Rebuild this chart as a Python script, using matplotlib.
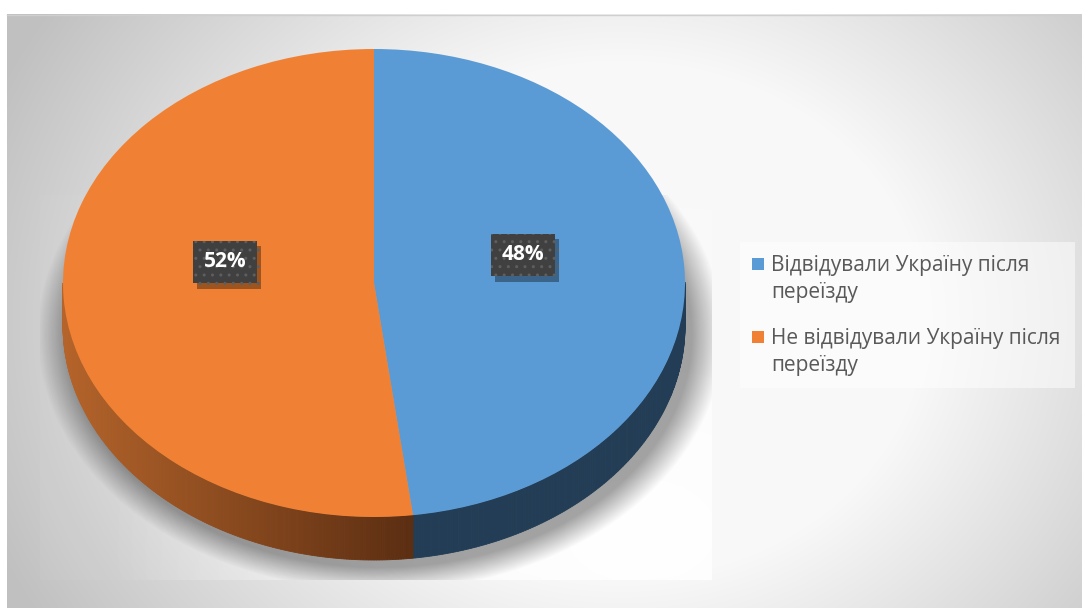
import numpy as np
import matplotlib.pyplot as plt
import matplotlib.patheffects as pe
from matplotlib.patches import Polygon, Rectangle

plt.rcParams['font.family'] = ['Open Sans', 'DejaVu Sans']
plt.rcParams['hatch.linewidth'] = 1.0

# survey answers
categories = ['Відвідували Україну після\nпереїзду',
              'Не відвідували Україну після\nпереїзду']
shares = [48, 52]
top_colors = ['#5B9BD5', '#F08134']

W, H = 1082, 608
fig = plt.figure(figsize=(W / 100, H / 100), dpi=100)
fig.patch.set_facecolor('white')

# background axes in pixel units
bg = fig.add_axes([0, 0, 1, 1])
bg.set_xlim(0, W)
bg.set_ylim(H, 0)
bg.axis('off')

# chart area: radial grey gradient
X, Y = np.meshgrid(np.arange(7, W), np.arange(14, H))
r = np.hypot((X - 620) / 470, (Y - 320) / 400)
grey = np.clip(255 - 70 * (r - 0.55), 192, 248) / 255
bg.imshow(np.dstack([grey] * 3), extent=(7, W, H, 14), zorder=0)
bg.plot([7, W], [14.5, 14.5], color='#cfcfcf', lw=1, zorder=1)

# plot area: faint lighter panel behind the pie
px0, px1, py0, py1 = 40, 712, 195, 580
PX, PY = np.meshgrid(np.arange(px0, px1), np.arange(py0, py1))
pr = np.hypot((PX - 640) / 520, (PY - 530) / 360)
palpha = np.clip(1.0 - 0.95 * pr, 0.04, 0.95)
panel = np.dstack([np.ones_like(palpha)] * 3 + [palpha])
bg.imshow(panel, extent=(px0, px1, py1, py0), zorder=1)

# pie geometry in pixels
cx, cy, a, b, depth = 374, 283, 311, 234, 43
d = depth / b

# soft shadow under the pie
SX, SY = np.meshgrid(np.arange(px0, px1), np.arange(py0, py1))
sr = np.hypot((SX - cx - 6) / (a + 10), (SY - cy - depth - 8) / (b + 6))
salpha = 0.36 * np.clip((1.07 - sr) / 0.1, 0, 1)
shadow = np.dstack([np.zeros_like(salpha)] * 3 + [salpha])
bg.imshow(shadow, extent=(px0, px1, py1, py0), zorder=2)

# pie axes: unit circle maps onto the ellipse
ax = fig.add_axes([0, 0, 1, 1])
ax.patch.set_visible(False)
wedges, _, autotexts = ax.pie(shares, colors=top_colors, startangle=90,
                              counterclock=False, autopct='%1.0f%%',
                              pctdistance=0.48,
                              wedgeprops=dict(linewidth=0, zorder=3))
ax.set_aspect('auto')
ax.set_xlim(-cx / a, (W - cx) / a)
ax.set_ylim(-(H - cy) / b, cy / b)
ax.axis('off')

# side walls of the disc, front half only, shaded left to right
side_light = [np.array([0x23, 0x3F, 0x57]) / 255,
              np.array([0xB5, 0x64, 0x2A]) / 255]
side_dark = [np.array([0x22, 0x3D, 0x55]) / 255,
             np.array([0x5C, 0x2E, 0x12]) / 255]
for w, lo, hi in zip(wedges, side_light, side_dark):
    t1, t2 = sorted([w.theta1, w.theta2])
    angles = np.clip(np.arange(t1, t2 + 0.5, 0.5), t1, t2)
    for s, e in zip(angles[:-1], angles[1:]):
        if np.sin(np.radians((s + e) / 2)) > 0:
            continue
        xs = np.cos(np.radians([s, e]))
        ys = np.sin(np.radians([s, e]))
        f = np.clip((np.mean(xs) + 1) / 1.12, 0, 1)
        col = lo + (hi - lo) * f
        quad = [(xs[0], ys[0]), (xs[1], ys[1]),
                (xs[1], ys[1] - d), (xs[0], ys[0] - d)]
        ax.add_patch(Polygon(quad, closed=True, facecolor=col,
                             edgecolor=col, lw=0.6, zorder=1))

# percentage labels in dark dotted boxes with a drop shadow
lift = [0.09, 0.12]
for t, dy in zip(autotexts, lift):
    x, y = t.get_position()
    t.set_position((x, y + dy))
    t.set_color('white')
    t.set_fontweight('bold')
    t.set_fontsize(15)
    t.set_zorder(6)
    t.set_bbox(dict(boxstyle='square,pad=0.52', facecolor='#404040',
                    edgecolor='#5e5e5e', linewidth=0, hatch='..'))
    t.get_bbox_patch().set_path_effects([
        pe.SimplePatchShadow(offset=(3, -4), shadow_rgbFace='black',
                             alpha=0.35),
        pe.Normal()])

# legend panel
bg.add_patch(Rectangle((740, 242), 335, 146, facecolor='white', alpha=0.5,
                       linewidth=0, zorder=3))
for i, (lab, col) in enumerate(zip(categories, top_colors)):
    ym = 264 + 73 * i
    bg.add_patch(Rectangle((752, ym - 6), 12, 12, facecolor=col,
                           linewidth=0, zorder=4))
    bg.text(771, ym - 9, lab, fontsize=15, color='#595959', ha='left',
            va='top', linespacing=1.4, zorder=4)

fig.savefig('out.png', dpi=100)
